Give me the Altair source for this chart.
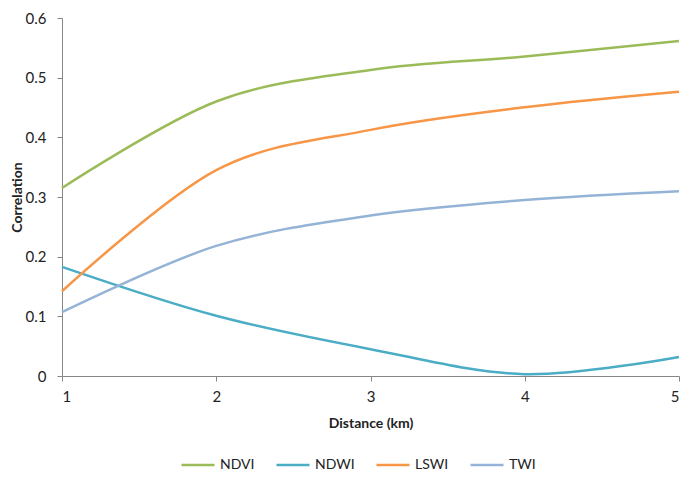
import altair as alt
import pandas as pd

distance = [1, 2, 3, 4, 5]
ndvi = [0.315, 0.46, 0.513, 0.5355, 0.5615]
ndwi = [0.183, 0.101, 0.045, 0.003, 0.032]
lswi = [0.142, 0.345, 0.4125, 0.4505, 0.4765]
twi = [0.107, 0.218, 0.269, 0.295, 0.3097]

series_names = ["NDVI", "NDWI", "LSWI", "TWI"]
series_colors = ["#9BBB59", "#4BACC6", "#F79646", "#95B3D7"]

rows = []
for name, vals in zip(series_names, [ndvi, ndwi, lswi, twi]):
    for d, v in zip(distance, vals):
        rows.append({"Distance": d, "Correlation": v, "Series": name})
df = pd.DataFrame(rows)

FONT = "Lato"

chart = (
    alt.Chart(df)
    .mark_line(interpolate="cardinal", strokeWidth=2.5)
    .encode(
        x=alt.X(
            "Distance:Q",
            scale=alt.Scale(domain=[1, 5], nice=False, zero=False),
            axis=alt.Axis(
                title="Distance (km)",
                values=distance,
                format="d",
                grid=False,
                tickSize=5,
                labelPadding=8,
                titlePadding=12,
            ),
        ),
        y=alt.Y(
            "Correlation:Q",
            scale=alt.Scale(domain=[0, 0.6], nice=False),
            axis=alt.Axis(
                title="Correlation",
                values=[0, 0.1, 0.2, 0.3, 0.4, 0.5, 0.6],
                format=".1~f",
                grid=False,
                tickSize=5,
                labelPadding=11,
                titlePadding=1,
            ),
        ),
        color=alt.Color(
            "Series:N",
            scale=alt.Scale(domain=series_names, range=series_colors),
            legend=alt.Legend(
                title=None,
                orient="none",
                legendX=118,
                legendY=429,
                direction="horizontal",
                symbolType="stroke",
                symbolSize=1089,
                symbolStrokeWidth=2.5,
                labelOffset=4,
                columnPadding=16,
                labelFontSize=14,
                labelFont=FONT,
                labelColor="#222222",
            ),
        ),
    )
    .properties(
        width=617,
        height=358,
        autosize=alt.AutoSizeParams(type="none"),
        padding={"left": 54, "top": 10, "right": 1, "bottom": 99},
    )
    .configure_view(stroke=None)
    .configure_axis(
        domainColor="#868686",
        tickColor="#868686",
        labelFont=FONT,
        labelFontSize=15,
        labelColor="#222222",
        titleFont=FONT,
        titleFontSize=14,
        titleFontWeight="bold",
        titleColor="#222222",
    )
)

chart.save("out.html", embed_options={"renderer": "svg", "actions": False})
